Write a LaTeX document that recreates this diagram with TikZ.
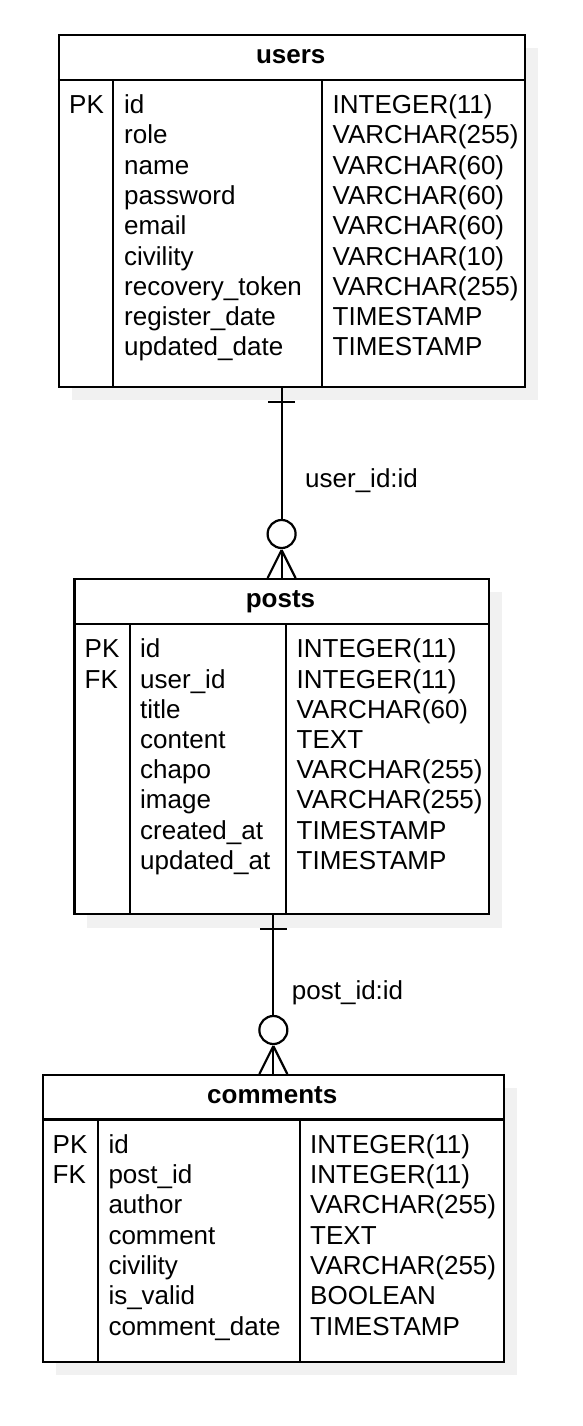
\documentclass[tikz,border=0pt]{standalone}
\usepackage{fontspec}
\setmainfont{Liberation Sans}
\usetikzlibrary{calc}
\definecolor{shadowgray}{RGB}{241,241,241}
\begin{document}
\begin{tikzpicture}[x=1pt,y=-1pt,
  tbl/.style={draw=black,line width=2.2pt,inner sep=0pt,anchor=north west},
  shade/.style={fill=shadowgray,draw=none},
  grid/.style={line width=2.2pt},
  txt/.style={inner sep=0pt,anchor=base west,font=\fontsize{26}{30}\selectfont},
  ttl/.style={inner sep=0pt,anchor=base,font=\fontsize{26}{30}\selectfont\bfseries},
  rel/.style={line width=2.2pt},
  lbl/.style={inner sep=0pt,anchor=base west,font=\fontsize{26}{30}\selectfont}]
\useasboundingbox (0,0) rectangle (582,1426);
\fill[white] (0,0) rectangle (582,1426);
% shadows
\fill[shade] (71.5,48) rectangle (538,400);
\fill[shade] (87.3,592) rectangle (501.7,927.5);
\fill[shade] (56,1088) rectangle (516.5,1375);
% ---------------- users
\node[tbl,fill=white,minimum width=466.5pt,minimum height=352pt] (users) at (57.5,34) {};
\draw[grid] (57.5,80) -- (524,80);
\draw[grid] (113,80) -- (113,386);
\draw[grid] (322,80) -- (322,386);
\node[ttl] (users-title) at (290.75,63.5) {users};
\node[txt] (users-pk) at (69,113.5) {PK};
\foreach \n [count=\i from 0] in {id,role,name,password,email,civility,recovery\_token,register\_date,updated\_date}
  \node[txt] (users-n\i) at (124,113.5+30.3*\i) {\n};
\foreach \t [count=\i from 0] in {INTEGER(11),VARCHAR(255),VARCHAR(60),VARCHAR(60),VARCHAR(60),VARCHAR(10),VARCHAR(255),TIMESTAMP,TIMESTAMP}
  \node[txt] (users-t\i) at (332.5,113.5+30.3*\i) {\t};
% ---------------- posts
\node[tbl,fill=white,minimum width=414.4pt,minimum height=335pt] (posts) at (73.3,578) {};
\draw[grid] (73.3,624) -- (487.7,624);
\draw[grid] (130,624) -- (130,913);
\draw[grid] (285.7,624) -- (285.7,913);
\node[ttl] (posts-title) at (280.5,607) {posts};
\node[txt] (posts-pk) at (84.5,657.8) {PK};
\node[txt] (posts-fk) at (84.5,688) {FK};
\foreach \n [count=\i from 0] in {id,user\_id,title,content,chapo,image,created\_at,updated\_at}
  \node[txt] (posts-n\i) at (140,657.8+30.2*\i) {\n};
\foreach \t [count=\i from 0] in {INTEGER(11),INTEGER(11),VARCHAR(60),TEXT,VARCHAR(255),VARCHAR(255),TIMESTAMP,TIMESTAMP}
  \node[txt] (posts-t\i) at (296.5,657.8+30.2*\i) {\t};
% ---------------- comments
\node[tbl,fill=white,minimum width=460.5pt,minimum height=287pt] (comments) at (42,1074) {};
\draw[grid] (42,1119.5) -- (502.5,1119.5);
\draw[grid] (98.3,1119.5) -- (98.3,1361);
\draw[grid] (300,1119.5) -- (300,1361);
\node[ttl] (comments-title) at (272.25,1103) {comments};
\node[txt] (comments-pk) at (52.5,1153.3) {PK};
\node[txt] (comments-fk) at (52.5,1183.6) {FK};
\foreach \n [count=\i from 0] in {id,post\_id,author,comment,civility,is\_valid,comment\_date}
  \node[txt] (comments-n\i) at (108.3,1153.3+30.3*\i) {\n};
\foreach \t [count=\i from 0] in {INTEGER(11),INTEGER(11),VARCHAR(255),TEXT,VARCHAR(255),BOOLEAN,TIMESTAMP}
  \node[txt] (comments-t\i) at (310,1153.3+30.3*\i) {\t};
% ---------------- relation users -> posts
\coordinate (r1top) at (posts.north |- users.south);
\draw[rel] (r1top) -- ($(posts.north)+(0,-58)$);
\draw[rel] ($(r1top)+(-13.5,14)$) -- ($(r1top)+(13.5,14)$);
\draw[rel] ($(posts.north)+(0,-44)$) circle (14);
\draw[rel] ($(posts.north)+(0,-28)$) -- (posts.north);
\draw[rel] ($(posts.north)+(0,-28)$) -- ($(posts.north)+(-14,0)$);
\draw[rel] ($(posts.north)+(0,-28)$) -- ($(posts.north)+(14,0)$);
\node[lbl] (r1label) at (305,487.5) {user\_id:id};
% ---------------- relation posts -> comments
\coordinate (r2top) at (comments.north |- posts.south);
\draw[rel] (r2top) -- ($(comments.north)+(0,-58)$);
\draw[rel] ($(r2top)+(-13.5,14)$) -- ($(r2top)+(13.5,14)$);
\draw[rel] ($(comments.north)+(0,-44)$) circle (14);
\draw[rel] ($(comments.north)+(0,-28)$) -- (comments.north);
\draw[rel] ($(comments.north)+(0,-28)$) -- ($(comments.north)+(-14,0)$);
\draw[rel] ($(comments.north)+(0,-28)$) -- ($(comments.north)+(14,0)$);
\node[lbl] (r2label) at (291.7,999.3) {post\_id:id};
\end{tikzpicture}
\end{document}
